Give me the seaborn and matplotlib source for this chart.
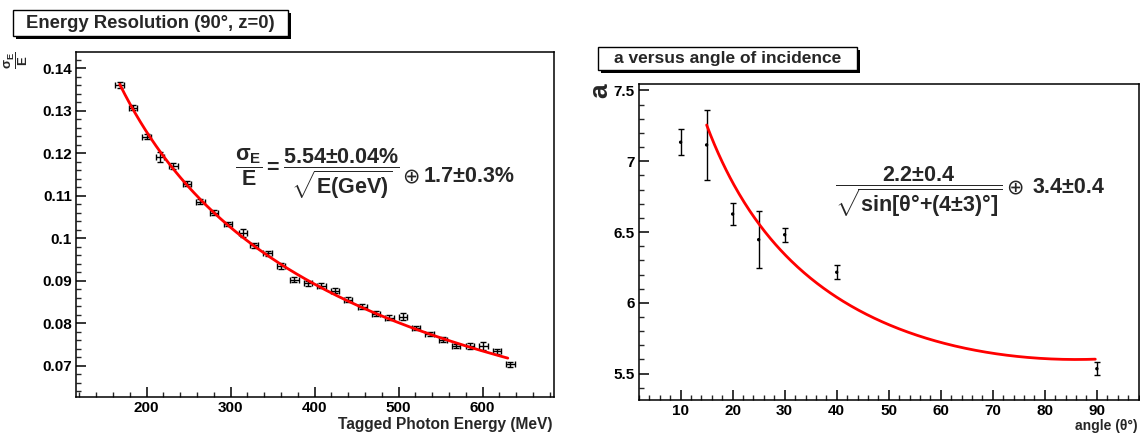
import numpy as np
import pandas as pd
import matplotlib
matplotlib.use("Agg")
import matplotlib.pyplot as plt
import seaborn as sns
from matplotlib.patches import Rectangle
from matplotlib.ticker import MultipleLocator, FuncFormatter

# ---------------- data: left panel (energy resolution) ----------------
energy_mev = [168, 184, 200, 216, 232, 248, 264, 280, 297, 315, 328, 344, 360, 376,
              392, 408, 424, 440, 457, 473, 489, 505, 521, 537, 553, 568, 585, 601,
              617, 633]
resolution = [0.1361, 0.1307, 0.1239, 0.1192, 0.1170, 0.1128, 0.1086, 0.1060, 0.1033,
              0.1013, 0.0984, 0.0965, 0.0935, 0.0903, 0.0894, 0.0889, 0.0877, 0.0856,
              0.0839, 0.0823, 0.0813, 0.0816, 0.0790, 0.0775, 0.0762, 0.0747, 0.0747,
              0.0747, 0.0735, 0.0704]
resolution_err = [0.0007, 0.0006, 0.0006, 0.0012, 0.0006, 0.0006, 0.0006, 0.0006,
                  0.0005, 0.0010, 0.0006, 0.0006, 0.0006, 0.0006, 0.0006, 0.0006,
                  0.0006, 0.0005, 0.0006, 0.0006, 0.0006, 0.0008, 0.0005, 0.0005,
                  0.0006, 0.0005, 0.0006, 0.0009, 0.0006, 0.0006]
energy_err = [5] * len(energy_mev)
stoch_term = 5.54   # % / sqrt(E[GeV])
const_term = 1.7    # %

# ---------------- data: right panel (a versus angle) ----------------
angle_deg = [10, 15, 20, 25, 30, 40, 90]
a_value = [7.134, 7.115, 6.627, 6.446, 6.481, 6.216, 5.535]
a_err = [0.09, 0.245, 0.075, 0.20, 0.05, 0.05, 0.045]
fit_A = 2.2
fit_delta = 4.0
fit_B = 3.4

# ---------------- style ----------------
sns.set_theme(style="white")
plt.rcParams["font.family"] = ["Liberation Sans", "DejaVu Sans"]
plt.rcParams["font.weight"] = "bold"
plt.rcParams["mathtext.fontset"] = "custom"
plt.rcParams["mathtext.rm"] = "Liberation Sans:bold"
plt.rcParams["mathtext.it"] = "Liberation Sans:bold"
plt.rcParams["mathtext.bf"] = "Liberation Sans:bold"
plt.rcParams["mathtext.sf"] = "Liberation Sans:bold"

W, H = 1140, 433
fig = plt.figure(figsize=(W / 100, H / 100), dpi=100)


def fx(x):
    return x / W


def fy(y):
    return 1 - y / H


def px_axes(x0, y0, x1, y1):
    return fig.add_axes([x0 / W, 1 - y1 / H, (x1 - x0) / W, (y1 - y0) / H])


def style_axes(ax):
    for s in ax.spines.values():
        s.set_visible(True)
        s.set_color("black")
        s.set_linewidth(1.1)
    ax.tick_params(which="major", direction="in", length=7.5, width=1.1,
                   top=False, right=False, left=True, bottom=True,
                   labelsize=11, colors="black", pad=3)
    ax.tick_params(which="minor", direction="in", length=3.8, width=1.0,
                   top=False, right=False, left=True, bottom=True)
    ax.yaxis.set_major_formatter(FuncFormatter(lambda v, p: f"{v:g}"))
    ax.xaxis.set_major_formatter(FuncFormatter(lambda v, p: f"{v:g}"))
    ax.grid(False)


def title_box(x0, y0, x1, y1, text, size):
    sh = 3
    fig.add_artist(Rectangle(((x0 + sh) / W, 1 - (y1 + sh) / H), (x1 - x0) / W,
                             (y1 - y0) / H, transform=fig.transFigure,
                             facecolor="black", edgecolor="black", lw=0))
    fig.add_artist(Rectangle((x0 / W, 1 - y1 / H), (x1 - x0) / W, (y1 - y0) / H,
                             transform=fig.transFigure, facecolor="white",
                             edgecolor="black", lw=1.0))
    fig.text((x0 + x1) / 2 / W, 1 - (y0 + y1) / 2 / H, text, ha="center",
             va="center", fontsize=size, fontweight="bold")


# ---------------- left panel ----------------
ax1 = px_axes(76, 52, 554, 397)
ax1.errorbar(energy_mev, resolution, yerr=resolution_err, xerr=energy_err,
             fmt="none", ecolor="black", elinewidth=1.0, capsize=2.2,
             capthick=1.0, zorder=3)
e_fit = np.linspace(min(energy_mev), 630, 300)
fit_df1 = pd.DataFrame({
    "E": e_fit,
    "res": np.sqrt((stoch_term / np.sqrt(e_fit / 1000.0)) ** 2 + const_term ** 2) / 100.0,
})
sns.lineplot(data=fit_df1, x="E", y="res", ax=ax1, color="red", lw=2.0, zorder=4)
ax1.set_xlim(116, 685)
ax1.set_ylim(0.0627, 0.1438)
ax1.xaxis.set_major_locator(MultipleLocator(100))
ax1.xaxis.set_minor_locator(MultipleLocator(20))
ax1.yaxis.set_major_locator(MultipleLocator(0.01))
ax1.yaxis.set_minor_locator(MultipleLocator(0.002))
style_axes(ax1)
ax1.set_xlabel("")
ax1.set_ylabel("")
fig.text(fx(553), fy(424), "Tagged Photon Energy (MeV)", ha="right",
         va="center", fontsize=11.2, fontweight="bold")
fig.text(fx(17), fy(60), r"$\dfrac{\sigma_E}{E}$", rotation=90, ha="center",
         va="center", fontsize=9.5)
fig.text(fx(400), fy(175),
         r"$\dfrac{\sigma_E}{E} = \dfrac{5.54±0.04\%}{\sqrt{E(GeV)}}$",
         ha="right", va="baseline", fontsize=15.5)
fig.text(fx(402), fy(182), "⊕", ha="left", va="baseline", fontsize=15,
         fontweight="normal", family=["DejaVu Sans"])
fig.text(fx(424), fy(182), "1.7±0.3%", ha="left", va="baseline",
         fontsize=15.5, fontweight="bold")
title_box(13, 10, 288, 36, "Energy Resolution (90°, z=0)", 13.3)

# ---------------- right panel ----------------
ax2 = px_axes(639, 84, 1138.5, 400)
ax2.errorbar(angle_deg, a_value, yerr=a_err, fmt="none", ecolor="black",
             elinewidth=1.0, capsize=2.5, capthick=1.0, zorder=3)
df2 = pd.DataFrame({"angle": angle_deg, "a": a_value})
sns.scatterplot(data=df2, x="angle", y="a", ax=ax2, color="black", s=6,
                edgecolor="none", zorder=4)
th = np.linspace(15, 89.7, 300)
fit_df2 = pd.DataFrame({
    "angle": th,
    "a": fit_A / np.sqrt(np.sin(np.radians(th + fit_delta))) + fit_B,
})
sns.lineplot(data=fit_df2, x="angle", y="a", ax=ax2, color="red", lw=2.0, zorder=4)
ax2.set_xlim(2, 98)
ax2.set_ylim(5.314, 7.545)
ax2.xaxis.set_major_locator(MultipleLocator(10))
ax2.xaxis.set_minor_locator(MultipleLocator(2))
ax2.yaxis.set_major_locator(MultipleLocator(0.5))
ax2.yaxis.set_minor_locator(MultipleLocator(0.1))
style_axes(ax2)
ax2.set_xlabel("")
ax2.set_ylabel("")
fig.text(fx(1138), fy(426), "angle (θ°)", ha="right", va="center",
         fontsize=10, fontweight="bold")
fig.text(fx(612), fy(91), "a", rotation=90, ha="right", va="center",
         fontsize=19, fontweight="bold")
fig.text(fx(1002), fy(193),
         r"$\dfrac{2.2±0.4}{\sqrt{sin[θ°{+}(4±3)°]}}$",
         ha="right", va="baseline", fontsize=15.5)
fig.text(fx(1006), fy(193), "⊕", ha="left", va="baseline", fontsize=15,
         fontweight="normal", family=["DejaVu Sans"])
fig.text(fx(1033), fy(193), "3.4±0.4", ha="left", va="baseline",
         fontsize=15.5, fontweight="bold")
title_box(598, 47, 857, 70, "a versus angle of incidence", 12.5)

fig.savefig("out.png", dpi=100)
